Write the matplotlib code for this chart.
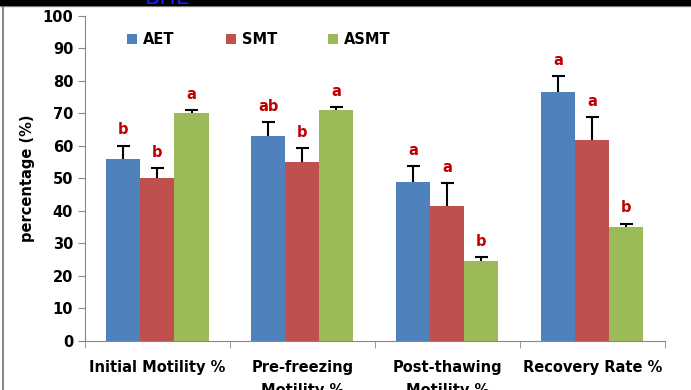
import numpy as np
import matplotlib.pyplot as plt

categories = ['Initial Motility %', 'Pre-freezing\nMotility %', 'Post-thawing\nMotility %', 'Recovery Rate %']
series = ['AET', 'SMT', 'ASMT']
aet = [56, 63, 49, 76.7]
smt = [50, 55, 41.5, 61.8]
asmt = [70, 71, 24.7, 35.2]
aet_err = [4.1, 4.4, 4.7, 4.9]
smt_err = [3.3, 4.3, 7.0, 7.0]
asmt_err = [1.1, 0.9, 1.2, 0.9]
aet_sig = ['b', 'ab', 'a', 'a']
smt_sig = ['b', 'b', 'a', 'a']
asmt_sig = ['a', 'a', 'b', 'b']

colors = ['#4F81BD', '#C0504D', '#9BBB59']
values = [aet, smt, asmt]
errors = [aet_err, smt_err, asmt_err]
letters = [aet_sig, smt_sig, asmt_sig]

fig = plt.figure(figsize=(6.91, 3.9), dpi=100)
ax = fig.add_axes([0.123, 0.126, 0.839, 0.833])

x = np.arange(len(categories))
w = 0.235
cap = 0.045
for i in range(3):
    pos = x + (i - 1) * w
    v = np.array(values[i])
    e = np.array(errors[i])
    ax.bar(pos, v, w, color=colors[i], label=series[i], zorder=2)
    # upper-only error bars
    ax.vlines(pos, v, v + e, color='black', lw=1.5, zorder=3)
    ax.hlines(v + e, pos - cap, pos + cap, color='black', lw=1.5, zorder=3)
    for p, top, s in zip(pos, v + e, letters[i]):
        ax.text(p, top + 2.5, s, ha='center', va='bottom', color='#C00000',
                fontsize=10.5, fontweight='bold')

ax.set_xlim(-0.5, 3.5)
ax.set_ylim(0, 100)
ax.set_yticks(range(0, 101, 10))
ax.set_xticks(x)
ax.set_xticklabels(categories, fontsize=10.5, fontweight='bold', linespacing=1.6)
ax.set_xticks(np.arange(-0.5, 4, 1), minor=True)
ax.tick_params(axis='x', which='major', length=0, pad=14)
ax.tick_params(axis='x', which='minor', length=5, color='#888888')
ax.tick_params(axis='y', length=5, color='#888888', labelsize=10.5)
for t in ax.get_yticklabels():
    t.set_fontweight('bold')
ax.set_ylabel('percentage (%)', fontsize=10.5, fontweight='bold', labelpad=5)
for side in ['top', 'right']:
    ax.spines[side].set_visible(False)
for side in ['left', 'bottom']:
    ax.spines[side].set_color('#888888')

ax.legend(loc='upper left', bbox_to_anchor=(0.05, 0.99), ncol=3, frameon=False,
          prop={'weight': 'bold', 'size': 10.5}, handlelength=0.7, handleheight=0.7,
          columnspacing=3.5, handletextpad=0.4)

# cropped frame from the source image
fig.patches.append(plt.Rectangle((0, 0.987), 1, 0.013, transform=fig.transFigure,
                                 color='black', zorder=5))
fig.lines.append(plt.Line2D([0, 1], [0.985, 0.985], transform=fig.transFigure,
                            color='#999999', lw=1))
fig.lines.append(plt.Line2D([0.005, 0.005], [0, 0.987], transform=fig.transFigure,
                            color='#888888', lw=1.5))
fig.text(0.21, 0.99, 'BHE', color='#1a1aff', fontsize=16, ha='left', va='baseline', zorder=6)

fig.savefig('out.png', dpi=100)
